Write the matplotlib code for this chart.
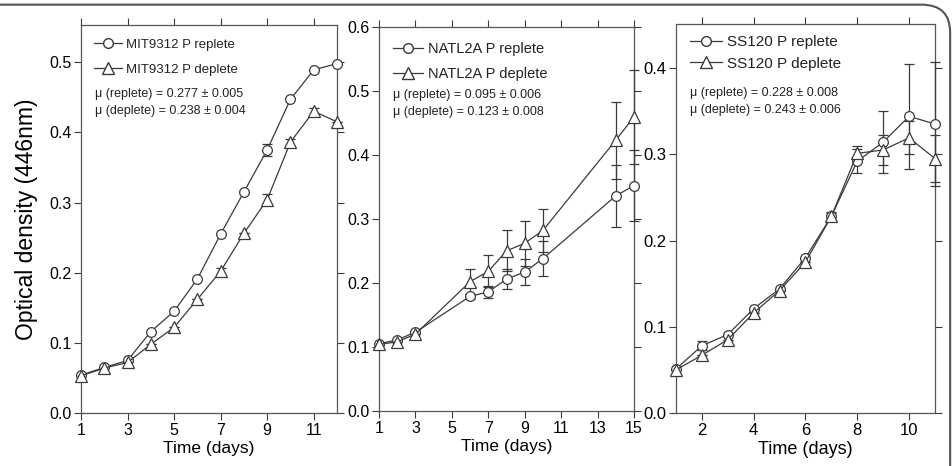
import matplotlib.pyplot as plt
from matplotlib.lines import Line2D
from matplotlib.patches import FancyBboxPatch

# MIT9312
mit_days = [1, 2, 3, 4, 5, 6, 7, 8, 9, 10, 11, 12]
mit_replete = [0.054, 0.065, 0.075, 0.116, 0.145, 0.191, 0.255, 0.315, 0.375, 0.447, 0.489, 0.498]
mit_replete_err = [0, 0, 0, 0, 0, 0, 0, 0, 0.009, 0, 0, 0]
mit_deplete = [0.053, 0.064, 0.072, 0.098, 0.122, 0.162, 0.202, 0.256, 0.304, 0.386, 0.430, 0.415]
mit_deplete_err = [0, 0, 0, 0, 0, 0, 0.005, 0, 0.008, 0.005, 0.005, 0]

# NATL2A
natl_days = [1, 2, 3, 6, 7, 8, 9, 10, 14, 15]
natl_replete = [0.105, 0.111, 0.123, 0.179, 0.186, 0.206, 0.217, 0.238, 0.336, 0.352]
natl_replete_err = [0, 0, 0, 0.004, 0.009, 0.015, 0.020, 0.027, 0.048, 0.056]
natl_deplete = [0.104, 0.108, 0.120, 0.202, 0.218, 0.250, 0.262, 0.282, 0.423, 0.459]
natl_deplete_err = [0, 0, 0, 0.020, 0.025, 0.032, 0.035, 0.033, 0.060, 0.074]

# SS120
ss_days = [1, 2, 3, 4, 5, 6, 7, 8, 9, 10, 11]
ss_replete = [0.051, 0.078, 0.091, 0.121, 0.144, 0.180, 0.228, 0.292, 0.314, 0.344, 0.335]
ss_replete_err = [0, 0.005, 0, 0, 0, 0, 0.005, 0.014, 0.036, 0.061, 0.072]
ss_deplete = [0.050, 0.067, 0.085, 0.116, 0.142, 0.175, 0.228, 0.301, 0.305, 0.319, 0.295]
ss_deplete_err = [0, 0, 0, 0, 0, 0, 0.004, 0.009, 0.017, 0.019, 0.027]

fig = plt.figure(figsize=(9.53, 4.66), dpi=100)
plt.rcParams['font.family'] = ['Liberation Sans', 'DejaVu Sans']

col = '#3a3a3a'


def panel(rect, days, rep, rep_err, dep, dep_err, name, mu_rep, mu_dep,
          xlim, xticks, ylim, yticks, ylabel=False, leg_fs=10, leg_sp=0.9,
          leg_y=1.0, fs=11.5):
    ax = fig.add_axes(rect)
    style = dict(color=col, lw=0.9, mfc='white', mec=col, mew=0.9,
                 capsize=3.5, elinewidth=0.9, zorder=3, clip_on=False)
    ax.errorbar(days, rep, yerr=rep_err, marker='o', ms=7, **style)
    ax.errorbar(days, dep, yerr=dep_err, marker='^', ms=8, **style)
    ax.set_xlim(*xlim)
    ax.set_ylim(*ylim)
    ax.set_xticks(xticks)
    ax.set_yticks(yticks)
    ax.set_yticklabels(['%.1f' % v for v in yticks])
    ax.tick_params(direction='out', top=True, right=True, labelsize=fs,
                   length=5, width=0.8, color=col, pad=2)
    for s in ax.spines.values():
        s.set_color('#555555')
        s.set_linewidth(0.9)
    ax.set_xlabel('Time (days)', fontsize=fs + 1, labelpad=2)
    if ylabel:
        ax.set_ylabel('Optical density (446nm)', fontsize=16.5, labelpad=8)
    handles = [
        Line2D([], [], color=col, lw=0.9, marker='o', ms=7, mfc='white', mec=col),
        Line2D([], [], color=col, lw=0.9, marker='^', ms=8, mfc='white', mec=col),
    ]
    leg = ax.legend(handles, [name + ' P replete', name + ' P deplete'],
                    loc='upper left', bbox_to_anchor=(0.02, leg_y), frameon=False,
                    fontsize=leg_fs, handlelength=2.1, handletextpad=0.3,
                    borderaxespad=0.2, labelspacing=leg_sp)
    for t in leg.get_texts():
        t.set_color('#222222')
    ax.text(0.056, 0.822, 'μ (replete) = %s' % mu_rep, transform=ax.transAxes,
            fontsize=9, va='center', color='#222222')
    ax.text(0.056, 0.778, 'μ (deplete) = %s' % mu_dep, transform=ax.transAxes,
            fontsize=9, va='center', color='#222222')
    return ax


panel([0.085, 0.1137, 0.2686, 0.8327], mit_days, mit_replete, mit_replete_err,
      mit_deplete, mit_deplete_err, 'MIT9312', '0.277 ± 0.005', '0.238 ± 0.004',
      (1, 12), [1, 3, 5, 7, 9, 11], (0, 0.553), [0, 0.1, 0.2, 0.3, 0.4, 0.5],
      ylabel=True, leg_fs=9.5, leg_sp=0.95, leg_y=0.985)
panel([0.3977, 0.118, 0.2676, 0.8247], natl_days, natl_replete, natl_replete_err,
      natl_deplete, natl_deplete_err, 'NATL2A', '0.095 ± 0.006', '0.123 ± 0.008',
      (1, 15), [1, 3, 5, 7, 9, 11, 13, 15], (0, 0.6), [0, 0.1, 0.2, 0.3, 0.4, 0.5, 0.6],
      leg_fs=10.5, leg_sp=0.75, leg_y=0.983)
panel([0.7093, 0.1137, 0.2718, 0.8348], ss_days, ss_replete, ss_replete_err,
      ss_deplete, ss_deplete_err, 'SS120', '0.228 ± 0.008', '0.243 ± 0.006',
      (1, 11), [2, 4, 6, 8, 10], (0, 0.451), [0, 0.1, 0.2, 0.3, 0.4],
      leg_fs=11, leg_sp=0.5, leg_y=0.995, fs=12)

# rounded outer frame (only top edge and right corner visible)
frame = FancyBboxPatch((-0.05, -0.5), 1.047, 1.49, boxstyle='round,pad=0,rounding_size=0.03',
                       transform=fig.transFigure, fill=False, ec='#555555', lw=1.5,
                       mutation_aspect=2.0, clip_on=False)
fig.patches.append(frame)

fig.savefig('out.png', dpi=100)
